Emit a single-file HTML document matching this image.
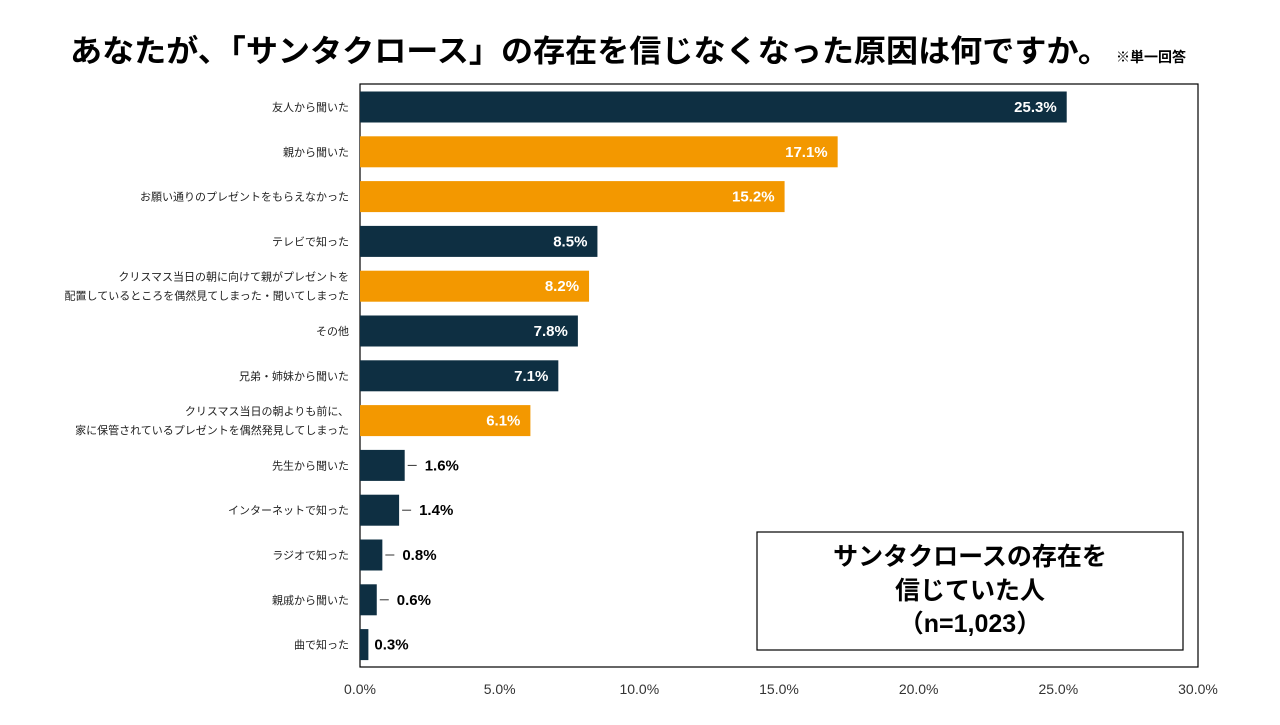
<!DOCTYPE html>
<html><head><meta charset="utf-8">
<style>
body{margin:0;background:#fff;width:1280px;height:720px;overflow:hidden;font-family:"Liberation Sans","Noto Sans CJK JP",sans-serif;}
svg text{font-family:"Liberation Sans","Noto Sans CJK JP",sans-serif;}
</style></head><body>
<svg id="chart" width="1280" height="720">
<text x="70" y="62" font-size="31" font-weight="bold" fill="#000" textLength="1040" lengthAdjust="spacingAndGlyphs">あなたが、「サンタクロース」の存在を信じなくなった原因は何ですか。</text>
<text x="1116" y="62" font-size="14" font-weight="bold" fill="#000">※単一回答</text>
<rect x="360" y="84" width="838" height="583" fill="none" stroke="#000" stroke-width="1.2"/>
<g id="bars"></g>
<g id="ticks"></g>
<rect x="757" y="532" width="426" height="118" fill="#fff" stroke="#000" stroke-width="1.2"/>
<text x="970" y="565" font-size="25" font-weight="bold" text-anchor="middle">サンタクロースの存在を</text>
<text x="970" y="599" font-size="25" font-weight="bold" text-anchor="middle">信じていた人</text>
<text x="970" y="632" font-size="25" font-weight="bold" text-anchor="middle">（n=1,023）</text>
</svg>
<script>
const categories=[["友人から聞いた"],["親から聞いた"],["お願い通りのプレゼントをもらえなかった"],["テレビで知った"],["クリスマス当日の朝に向けて親がプレゼントを","配置しているところを偶然見てしまった・聞いてしまった"],["その他"],["兄弟・姉妹から聞いた"],["クリスマス当日の朝よりも前に、","家に保管されているプレゼントを偶然発見してしまった"],["先生から聞いた"],["インターネットで知った"],["ラジオで知った"],["親戚から聞いた"],["曲で知った"]];
const values=[25.3,17.1,15.2,8.5,8.2,7.8,7.1,6.1,1.6,1.4,0.8,0.6,0.3];
const highlight=[0,1,1,0,1,0,0,1,0,0,0,0,0];
const ticks=[0,5,10,15,20,25,30];
const ns="http://www.w3.org/2000/svg";
const x0=360,x1=1198,xmax=30,top0=84,bandH=44.8;
const xs=v=>x0+(x1-x0)*v/xmax;
const yc=i=>top0+23+i*bandH;
function mk(tag,attrs,parent){const e=document.createElementNS(ns,tag);for(const k in attrs)e.setAttribute(k,attrs[k]);parent.appendChild(e);return e;}
const gb=document.getElementById('bars');
values.forEach((v,i)=>{
  const c=yc(i);
  const r=mk('rect',{x:x0,y:c-15.5,width:xs(v)-x0,height:31,fill:highlight[i]?'#f39800':'#0e2f42'},gb);
  
  
  const lines=categories[i];
  lines.forEach((ln,j)=>{
    const t=mk('text',{x:349,y:c+4+(j-(lines.length-1)/2)*19,'font-size':11,'text-anchor':'end',fill:'#222'},gb);
    t.textContent=ln;
    
    
  });
  const lbl=v.toFixed(1)+'%';
  if(v>=5){
    const t=mk('text',{x:xs(v)-10,y:c+5,'font-size':15,'font-weight':'bold','text-anchor':'end',fill:'#fff'},gb);
    t.textContent=lbl;
    
    
  }else{
    if(v>0.4){const l=mk('line',{x1:xs(v)+3,x2:xs(v)+12,y1:c,y2:c,stroke:'#333','stroke-width':1},gb);
    
    }
    const t=mk('text',{x:xs(v)+(v>0.4?20:6),y:c+5,'font-size':15,'font-weight':'bold',fill:'#000'},gb);
    t.textContent=lbl;
    
    
  }
});
const gt=document.getElementById('ticks');
ticks.forEach(v=>{
  const t=mk('text',{x:xs(v),y:694,'font-size':14,'text-anchor':'middle',fill:'#333'},gt);
  t.textContent=v.toFixed(1)+'%';
  
  
});
</script>
</body></html>
